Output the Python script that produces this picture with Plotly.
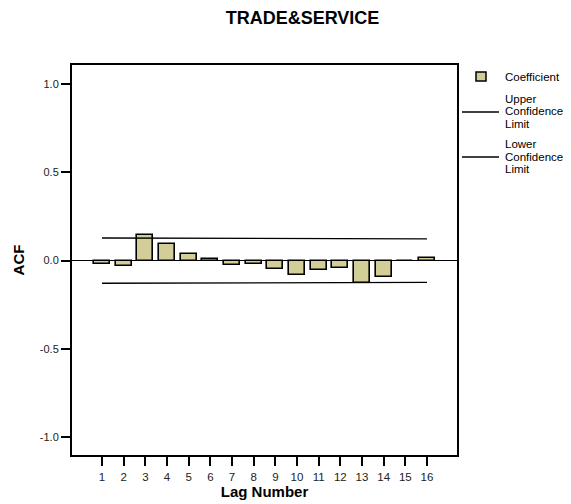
import plotly.graph_objects as go

lags = list(range(1, 17))
acf = [-0.019, -0.028, 0.145, 0.094, 0.038, 0.010, -0.026, -0.021,
       -0.049, -0.083, -0.055, -0.042, -0.128, -0.091, -0.003, 0.013]
upper_cl = [0.128, 0.1277, 0.1275, 0.1272, 0.1269, 0.1266, 0.1263, 0.1260,
            0.1257, 0.1254, 0.1251, 0.1248, 0.1245, 0.1242, 0.1239, 0.1236]
lower_cl = [-v for v in upper_cl]
y_ticks = [-1.0, -0.5, 0.0, 0.5, 1.0]

FONT = "Arial, Liberation Sans, sans-serif"
BAR_FILL = "#D3CE97"

W, H = 571, 504
L, R, T, B = 72, 114, 65, 49
PW, PH = W - L - R, H - T - B

def px(x):
    return (x - L) / PW

def py(y):
    return (H - B - y) / PH

fig = go.Figure()
fig.add_trace(go.Bar(x=lags, y=acf, width=0.75, marker=dict(color=BAR_FILL, line=dict(color="black", width=1.6)),
                     showlegend=False, name="Coefficient"))
fig.add_trace(go.Scatter(x=lags, y=upper_cl, mode="lines", line=dict(color="black", width=1.3),
                         showlegend=False, name="Upper Confidence Limit"))
fig.add_trace(go.Scatter(x=lags, y=lower_cl, mode="lines", line=dict(color="black", width=1.3),
                         showlegend=False, name="Lower Confidence Limit"))

shapes = []
annotations = []
LEG_FONT = dict(family=FONT, size=11.5, color="black")
# custom legend
shapes.append(dict(type="rect", xref="paper", yref="paper", x0=px(476), x1=px(486), y0=py(72), y1=py(81),
                   fillcolor=BAR_FILL, line=dict(color="black", width=1.5)))
annotations.append(dict(text="Coefficient", xref="paper", yref="paper", x=px(503), y=py(76.5),
                        xanchor="left", yanchor="middle", showarrow=False, font=LEG_FONT))
for ys, line_y, first in [((98.5, 111, 123.5), 112, "Upper"), ((144, 156.5, 169), 157, "Lower")]:
    shapes.append(dict(type="line", xref="paper", yref="paper", x0=px(462), x1=px(499), y0=py(line_y), y1=py(line_y),
                       line=dict(color="black", width=1.3)))
    for txt, yy in zip([first, "Confidence", "Limit"], ys):
        annotations.append(dict(text=txt, xref="paper", yref="paper", x=px(503), y=py(yy),
                                xanchor="left", yanchor="middle", showarrow=False, font=LEG_FONT))

fig.update_layout(
    width=W, height=H,
    margin=dict(l=L, r=R, t=T, b=B, pad=0, autoexpand=False),
    paper_bgcolor="white", plot_bgcolor="white",
    font=dict(family=FONT, color="#222"),
    title=dict(text="<b>TRADE&amp;SERVICE</b>", x=302.5 / W, xref="container", xanchor="center",
               y=1 - 18 / H, yref="container", yanchor="middle",
               font=dict(family=FONT, size=18, color="black")),
    bargap=0,
    shapes=shapes,
    annotations=annotations,
    xaxis=dict(range=[-0.385, 17.385], tickvals=lags, ticktext=[str(v) for v in lags],
               ticks="outside", ticklen=9, tickwidth=1.5, tickcolor="black",
               showline=True, linecolor="black", linewidth=2, mirror=True,
               showgrid=False, zeroline=False, ticklabelstandoff=1, automargin=False,
               tickfont=dict(family=FONT, size=11.5, color="#222"),
               title=dict(text="<b>Lag Number</b>", font=dict(family=FONT, size=15, color="black"), standoff=5)),
    yaxis=dict(range=[-1.1, 1.107], tickvals=y_ticks, ticktext=[f"{v:.1f}" for v in y_ticks],
               ticks="outside", ticklen=9, tickwidth=1.5, tickcolor="black",
               showline=True, linecolor="black", linewidth=2, mirror=True,
               showgrid=False, zeroline=True, zerolinecolor="black", zerolinewidth=1.2, automargin=False,
               tickfont=dict(family=FONT, size=11, color="#222"),
               title=dict(text="<b>ACF</b>", font=dict(family=FONT, size=15, color="black"), standoff=12)),
)

fig.write_html("out.html")
